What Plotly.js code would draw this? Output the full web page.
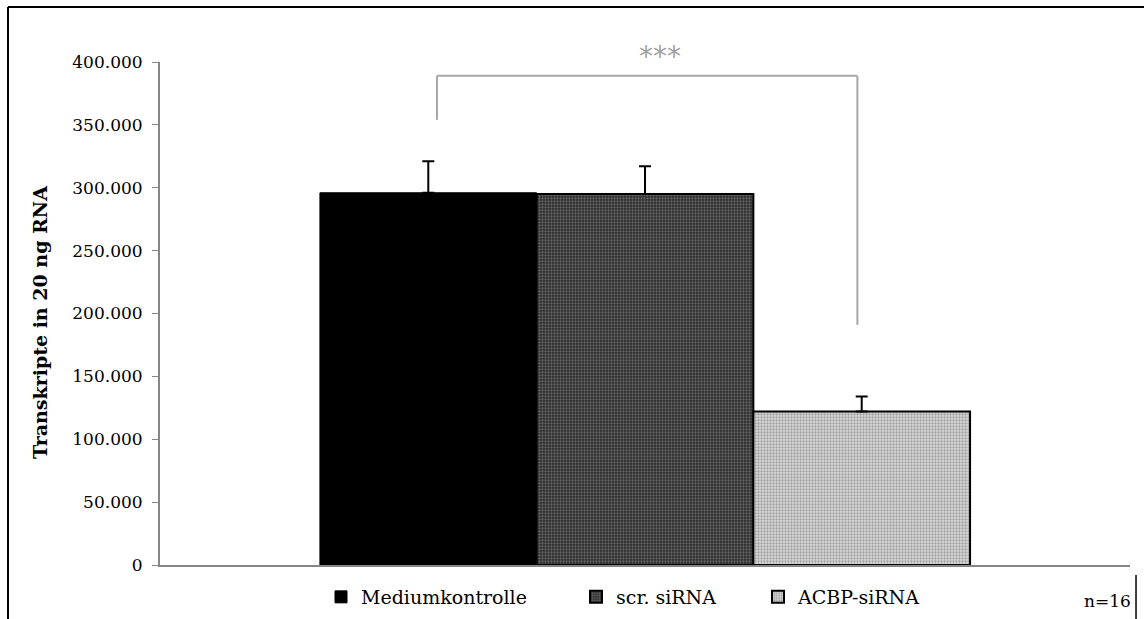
<!DOCTYPE html>
<html>
<head>
<meta charset="utf-8">
<script src="https://cdn.plot.ly/plotly-3.0.1.min.js"></script>
<style>html,body{margin:0;padding:0;background:#fff;}#chart{width:1144px;height:619px;}</style>
</head>
<body>
<div id="chart"></div>
<script>
// ---- data ----
const categories = ["Mediumkontrolle", "scr. siRNA", "ACBP-siRNA"];
const values = [296000, 295000, 122000];
const errors = [25000, 22000, 12000];
const yTicks = [0, 50000, 100000, 150000, 200000, 250000, 300000, 350000, 400000];
const significance = "***";
const sampleNote = "n=16";
const yTitle = "Transkripte in 20 ng RNA";

// ---- styles ----
const fills = ["#000000", "#383838", "#c6c6c6"];
const patFg = [null, "#666666", "#a0a0a0"];
const patBg = [null, "#2a2a2a", "#dadada"];
const lineW = [1, 2, 2];
const legendX = [321, 576, 758];

const traces = categories.map((c, i) => {
  const marker = {color: fills[i], line: {color: "#000", width: lineW[i]}};
  if (patFg[i]) {
    marker.pattern = {shape: ".", fgcolor: patFg[i], bgcolor: patBg[i], size: 3, solidity: 0.45, fillmode: "replace"};
  }
  return {
    type: "bar",
    x: [c],
    y: [values[i]],
    name: c,
    width: 1,
    marker: marker,
    error_y: {type: "data", symmetric: false, array: [errors[i]], arrayminus: [0], color: "#000", thickness: 2, width: 6},
    legend: i === 0 ? "legend" : "legend" + (i + 1),
    showlegend: true,
    hoverinfo: "skip"
  };
});

function legendCfg(px) {
  return {
    xref: "container", yref: "container",
    x: px / 1144, y: 1 - 597 / 619,
    xanchor: "left", yanchor: "middle",
    orientation: "h",
    bgcolor: "rgba(0,0,0,0)",
    borderwidth: 0,
    font: {family: "DejaVu Serif", size: 19, color: "#000"}
  };
}

const bracketColor = "#a6a6a6";
const layout = {
  width: 1144, height: 619,
  margin: {l: 160, r: 14, t: 62, b: 54},
  paper_bgcolor: "#fff", plot_bgcolor: "#fff",
  separators: ",.",
  font: {family: "DejaVu Serif", color: "#000", size: 17},
  barmode: "overlay",
  bargap: 0,
  showlegend: true,
  legend: legendCfg(legendX[0]),
  legend2: legendCfg(legendX[1]),
  legend3: legendCfg(legendX[2]),
  xaxis: {
    type: "category",
    categoryorder: "array", categoryarray: categories,
    range: [-1.238, 3.238],
    showticklabels: false, ticks: "",
    showline: true, linecolor: "#868686", linewidth: 2,
    showgrid: false, zeroline: false, fixedrange: true
  },
  yaxis: {
    range: [0, 400000],
    tickvals: yTicks,
    tickformat: ",d",
    ticks: "outside", ticklen: 6, tickcolor: "#868686", tickwidth: 1,
    ticklabelstandoff: 6,
    showline: true, linecolor: "#868686", linewidth: 2,
    showgrid: false, zeroline: false, fixedrange: true,
    tickfont: {family: "DejaVu Serif", size: 17, color: "#000"},
    title: {text: "<b>" + yTitle + "</b>&nbsp;&nbsp;&nbsp;", font: {family: "DejaVu Serif", size: 19, color: "#000"}, standoff: 20}
  },
  shapes: [
    // significance bracket (data coords on category axis)
    {type: "line", xref: "x", yref: "y", x0: 0.04, x1: 0.04, y0: 354000, y1: 389000, line: {color: bracketColor, width: 2}},
    {type: "line", xref: "x", yref: "y", x0: 0.04, x1: 1.98, y0: 389000, y1: 389000, line: {color: bracketColor, width: 2}},
    {type: "line", xref: "x", yref: "y", x0: 1.98, x1: 1.98, y0: 389000, y1: 191000, line: {color: bracketColor, width: 2}},
    // outer frame
    {type: "line", xref: "paper", yref: "paper", x0: -0.1567, x1: 1.015, y0: 1.1093, y1: 1.1093, line: {color: "#000", width: 2}},
    {type: "line", xref: "paper", yref: "paper", x0: -0.1567, x1: -0.1567, y0: 1.1093, y1: -0.13, line: {color: "#000", width: 2}},
    {type: "line", xref: "paper", yref: "paper", x0: 1.0062, x1: 1.0062, y0: -0.02, y1: -0.13, line: {color: "#000", width: 1.5}}
  ],
  annotations: [
    {xref: "x", yref: "y", x: 1.07, y: 389000, yshift: 19, text: significance, showarrow: false,
     xanchor: "center", yanchor: "middle",
     font: {family: "DejaVu Sans", size: 28, color: "#a0a0a0"}},
    {xref: "paper", yref: "paper", x: 0.977, y: -0.0716, text: sampleNote, showarrow: false,
     xanchor: "center", yanchor: "middle",
     font: {family: "DejaVu Serif", size: 17, color: "#000"}}
  ]
};

Plotly.newPlot("chart", traces, layout, {displayModeBar: false, staticPlot: true});
</script>
</body>
</html>
